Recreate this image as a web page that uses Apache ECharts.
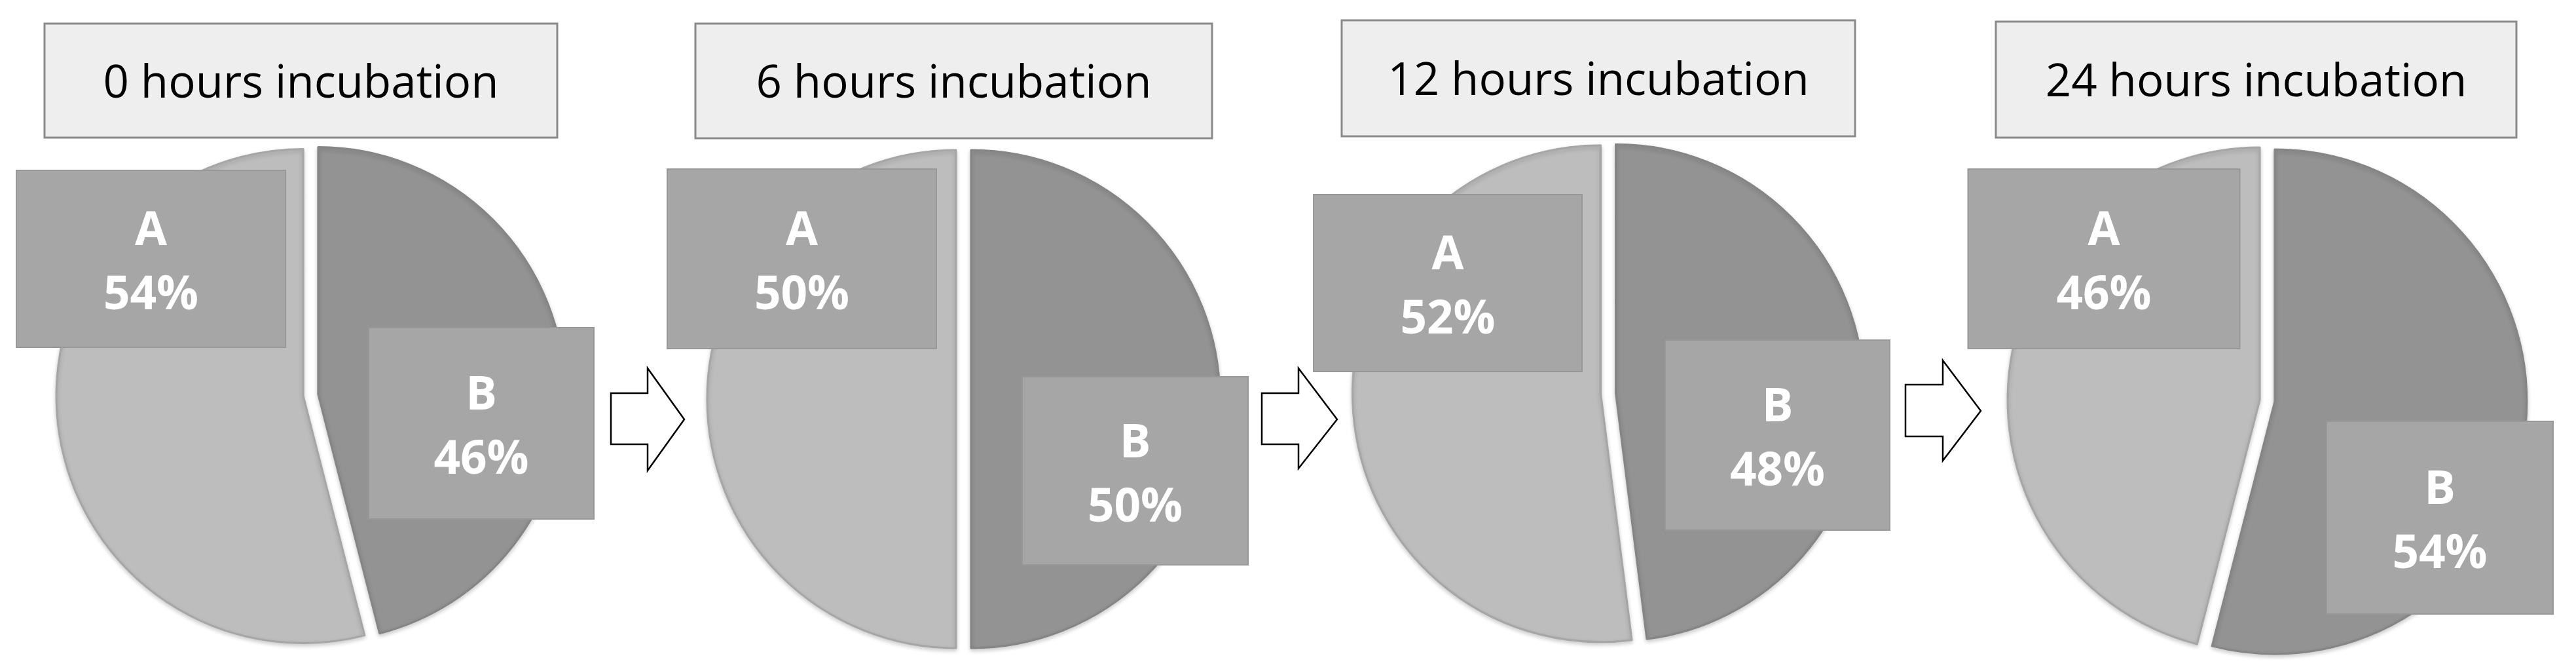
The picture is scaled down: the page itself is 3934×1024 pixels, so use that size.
<!DOCTYPE html>
<html>
<head>
<meta charset="utf-8">
<title>Incubation pies</title>
<script src="https://cdn.jsdelivr.net/npm/echarts@6/dist/echarts.min.js"></script>
<style>
  html, body { margin: 0; padding: 0; background: #fff; }
  #chart { width: 3934px; height: 1024px; }
</style>
</head>
<body>
<div id="chart"></div>
<script>
  // values (percent of total)
  var panelTitles = ['0 hours incubation', '6 hours incubation', '12 hours incubation', '24 hours incubation'];
  var sliceNames = ['B', 'A'];          // B starts at 12 o'clock, clockwise
  var shareB = [46, 50, 48, 54];
  var shareA = [54, 50, 52, 46];

  // layout, px
  var pieLayout = [
    { cx: 474.5, cy: 603, r: 377 },
    { cx: 1471.5, cy: 609, r: 380 },
    { cx: 2456, cy: 600, r: 379 },
    { cx: 3462.5, cy: 611.5, r: 385 }
  ];
  var EXPLODE = 11.5;
  // [x, y, w, h]
  var titleBoxes = [
    [68, 36, 783, 174],
    [1062, 36, 789, 175],
    [2049, 31, 784, 177],
    [3048, 33, 795, 177]
  ];
  // data label boxes (moved by hand in the original), [centerX, centerY, w, h], order B, A
  var labelBoxes = [
    [[735, 646, 344, 292], [230.5, 395, 411, 270]],
    [[1733.5, 718.5, 345, 287], [1224.5, 395, 411, 274]],
    [[2714.5, 664, 343, 290], [2211, 432, 410, 270]],
    [[3726, 790, 346, 294], [3213, 395, 415, 274]]
  ];
  // [left, neck, tip, headTop, shaftTop, shaftBottom, headBottom, tipY]
  var arrows = [
    [933, 989, 1045, 562, 600, 678, 718, 640],
    [1927, 1983, 2042, 562, 600, 678, 715, 640],
    [2910, 2967, 3025, 550, 587, 666, 703, 627]
  ];

  var sliceStyle = {
    B: { color: '#939393', borderColor: '#858585' },
    A: { color: '#bdbdbd', borderColor: '#a6a6a6' }
  };

  var chart = echarts.init(document.getElementById('chart'));

  var series = pieLayout.map(function (p, i) {
    var vals = [shareB[i], shareA[i]];
    return {
      type: 'pie',
      center: [p.cx, p.cy],
      radius: p.r,
      startAngle: 90,
      clockwise: true,
      selectedMode: 'multiple',
      selectedOffset: EXPLODE,
      emphasis: { disabled: true },
      label: { show: false },
      labelLine: { show: false },
      data: sliceNames.map(function (n, k) {
        var st = sliceStyle[n];
        var item = {
          color: st.color,
          borderColor: st.borderColor,
          borderWidth: 3,
          shadowBlur: 6,
          shadowOffsetY: 3,
          shadowColor: 'rgba(0,0,0,0.18)'
        };
        return {
          name: n,
          value: vals[k],
          selected: true,
          itemStyle: item,
          select: { itemStyle: item }
        };
      })
    };
  });

  var graphics = [];
  titleBoxes.forEach(function (b, i) {
    graphics.push({
      type: 'rect',
      shape: { x: b[0], y: b[1], width: b[2], height: b[3] },
      style: { fill: '#eeeeee', stroke: '#8a8a8a', lineWidth: 3 }
    });
    graphics.push({
      type: 'text',
      x: b[0] + b[2] / 2,
      y: b[1] + b[3] / 2 + 6,
      style: {
        text: panelTitles[i],
        fill: '#000000',
        font: '69px "Open Sans"',
        align: 'center',
        verticalAlign: 'middle'
      }
    });
  });

  // data labels: name and share, in boxes placed where the original has them
  labelBoxes.forEach(function (boxes, i) {
    var vals = [shareB[i], shareA[i]];
    boxes.forEach(function (b, k) {
      graphics.push({
        type: 'rect',
        z: 100,
        shape: { x: b[0] - b[2] / 2, y: b[1] - b[3] / 2, width: b[2], height: b[3] },
        style: { fill: '#a6a6a6', stroke: '#989898', lineWidth: 2 }
      });
      graphics.push({
        type: 'text',
        z: 101,
        x: b[0],
        y: b[1] + 8,
        style: {
          text: sliceNames[k] + '\n' + vals[k] + '%',
          fill: '#ffffff',
          font: 'bold 71px "Open Sans"',
          lineHeight: 98,
          align: 'center',
          verticalAlign: 'middle'
        }
      });
    });
  });

  arrows.forEach(function (a) {
    graphics.push({
      type: 'polygon',
      shape: {
        points: [[a[0], a[4]], [a[1], a[4]], [a[1], a[3]], [a[2], a[7]],
                 [a[1], a[6]], [a[1], a[5]], [a[0], a[5]]]
      },
      style: { fill: '#ffffff', stroke: '#000000', lineWidth: 2.5 }
    });
  });

  chart.setOption({
    animation: false,
    backgroundColor: '#ffffff',
    series: series,
    graphic: graphics
  });
</script>
</body>
</html>
